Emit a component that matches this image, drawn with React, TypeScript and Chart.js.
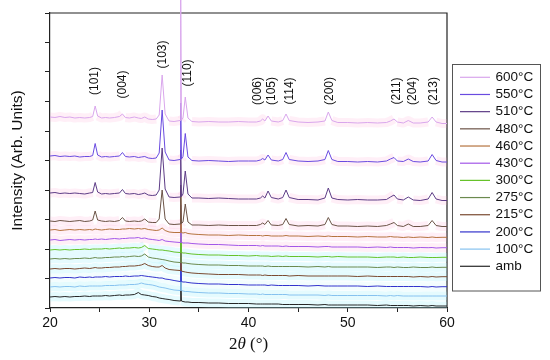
import React, { useEffect, useRef } from 'react';
import { Chart, registerables } from 'chart.js';

Chart.register(...registerables);

const twoTheta = [20, 20.5, 21, 21.5, 22, 22.5, 23, 23.5, 24, 24.3,
  24.55, 24.8, 25.2, 25.6, 26, 26.5, 27.0, 27.3, 27.6, 28,
  28.5, 28.9, 29.2, 29.55, 29.9, 30.3, 30.7, 31.0, 31.3, 31.6,
  32, 32.5, 33.1, 33.17, 33.24, 33.4, 33.63, 33.9, 34.3, 35,
  36, 37, 38, 39, 40, 40.8, 41.2, 41.43, 41.65, 41.97,
  42.3, 43, 43.45, 43.78, 44.1, 45, 46, 47, 47.7, 48.04,
  48.4, 49, 50, 51, 52, 53, 53.9, 54.3, 54.66, 55.0,
  55.6, 56.1, 56.6, 57.3, 58.1, 58.5, 58.9, 59.5, 60];

const s600 = [191, 190.5, 191.5, 190.5, 191, 190, 190.5, 190, 190.5, 191.5,
  202, 192, 190, 190.5, 190, 190.5, 191.5, 194, 190.5, 190,
  191, 190, 189.5, 191, 189, 188.5, 189, 193, 233, 194,
  187, 186.5, 187.5, 315, 188, 190, 211, 190, 186.5, 186,
  186.5, 186, 186, 186.5, 186, 186, 187, 189, 187, 192,
  187, 186, 187.5, 194, 187.5, 186, 185.5, 186, 187, 196,
  187.5, 185.5, 185.5, 185, 185.5, 185, 185.5, 187, 189, 186,
  185, 187.5, 185, 185, 186, 191, 186, 184.5, 184.5];

const s550 = [152, 152.5, 151.5, 152, 151.5, 152, 151, 151.5, 151.5, 152.5,
  164.5, 153, 151, 151.5, 151, 151.5, 152, 155.5, 151.5, 151,
  151.5, 150.5, 151, 151.5, 150, 149.5, 150, 155, 198, 156,
  148, 147.5, 148.5, 205, 149, 151.5, 174.5, 151, 147.5, 147,
  147.5, 147, 146.5, 147, 147, 147, 148, 149.5, 148, 153,
  148, 147, 148.5, 155.5, 148.5, 147, 146.5, 147, 148.5, 157.5,
  148.5, 146.5, 146.5, 146, 146.5, 146, 147, 149, 150.5, 147,
  146.5, 149, 146.5, 146, 147, 153.5, 147.5, 146, 146];

const s510 = [115, 115.5, 114.5, 115, 114.5, 115, 114.5, 114, 115, 115.5,
  125.5, 116, 114, 114.5, 114, 114.5, 115, 118.5, 114.5, 114,
  114.5, 113.5, 114, 115, 113, 112.5, 113, 118, 160, 119,
  111, 110.5, 111, 158, 111.5, 114, 137, 114, 110, 110,
  109.5, 110, 109.5, 109, 109, 109, 110, 112, 110, 117,
  110.5, 109, 110.5, 118, 110.5, 108.5, 108.5, 108, 110, 120,
  110, 108.5, 108, 108.5, 108, 108, 108.5, 111, 113, 109,
  108, 111, 108, 107.5, 109, 115.5, 109, 107.5, 107.5];

const s480 = [87, 86.5, 87.5, 87, 86.5, 87, 87.5, 86.5, 87, 88,
  97, 88, 87, 86.5, 87, 86.5, 87.5, 90.5, 87, 86.5,
  87, 86.5, 87, 89, 86, 85.5, 85.5, 89, 118, 89,
  84, 83.5, 84, 123, 84.5, 86, 104, 86, 83, 83,
  82.5, 83, 82.5, 82.5, 82.5, 82.5, 83.5, 85, 83.5, 87.5,
  83, 82.5, 83.5, 89.5, 83.5, 82, 82.5, 82, 83.5, 90.5,
  83.5, 82, 82, 81.5, 82, 81.5, 82.5, 84, 85.5, 82.5,
  81.5, 84, 81.5, 81.5, 82.5, 87.5, 82.5, 81.5, 81.5];

const s460 = [78, 78.5, 77.5, 78, 78.5, 78, 78.5, 78, 78.5, 78,
  79, 78.5, 78, 78.5, 79, 78.5, 78.5, 79, 79, 79.5,
  79, 79.5, 79, 79.5, 78.5, 78, 77.5, 78, 80, 77.5,
  76, 75.5, 75.5, 113, 75.5, 75, 75.5, 74.5, 74, 73.5,
  73, 73, 72.5, 73, 72.5, 72.5, 72.5, 72, 72.5, 72.5,
  72, 72, 72, 72.5, 72, 72, 71.5, 72, 71.5, 72,
  71.5, 71.5, 71.5, 71, 71.5, 71, 71, 71.5, 71, 71,
  70.5, 71, 70.5, 71, 70.5, 71, 70.5, 70.7, 70.7];

const s430 = [68, 68.5, 67.5, 68, 68.5, 68, 68.5, 68, 68.5, 68.5,
  69, 68.5, 69, 68.5, 69, 69.5, 69, 69.5, 69.5, 70,
  70, 70.5, 69.5, 70, 69, 68.5, 68, 67.5, 68.5, 67,
  66.5, 66, 65.5, 103, 65.5, 65, 65, 65, 64.5, 64,
  63.5, 63.5, 63, 62.5, 62.5, 62.5, 62, 62.5, 62, 62,
  62, 62, 61.5, 62, 61.5, 61.5, 61.5, 61, 61.5, 61.5,
  61, 61, 61, 61, 60.5, 61, 60.5, 61, 60.5, 60.5,
  60.5, 60.5, 60, 60.5, 60.3, 60.5, 60, 60.3, 60.3];

const s300 = [58, 58.5, 58, 58.5, 58, 58.5, 58.5, 59, 58.5, 59,
  59, 59, 59, 59.5, 59, 59.5, 60, 59.5, 60, 60,
  60.5, 60, 60.5, 62.5, 59.5, 59, 58.5, 58, 58, 57.5,
  57, 56, 55.5, 93, 55.5, 55, 55, 54.5, 54, 53.5,
  53, 53, 52.5, 52.5, 52, 52.5, 52, 52, 52, 52,
  51.5, 52, 51.5, 52, 51.5, 51.5, 51.5, 51, 51.5, 51.5,
  51, 51.5, 51, 51, 51, 50.5, 51, 51, 51, 50.5,
  51, 50.5, 50.5, 51, 50.5, 50.5, 50.5, 50.7, 50.7];

const s275 = [49, 49.5, 49, 49.5, 49, 49.5, 49.5, 50, 49.5, 50,
  50.5, 50, 50, 50.5, 50.5, 51, 51, 51.5, 51, 51.5,
  52, 51.5, 52, 54, 51, 50, 49.5, 49, 48.5, 48,
  47, 46, 45.5, 83, 45.5, 45, 45, 44.5, 44, 43.5,
  43, 43, 42.5, 42.5, 42, 42, 42, 42, 41.5, 42,
  41.5, 41.5, 41.5, 41.5, 41.5, 41.5, 41, 41.5, 41, 41.5,
  41, 41, 41, 41, 41, 40.5, 41, 41, 40.5, 41,
  40.5, 40.5, 41, 40.5, 40.5, 41, 40.5, 40.7, 40.7];

const s215 = [39, 39.5, 39, 39.5, 39.5, 39, 39.5, 40, 39.5, 40,
  40.5, 40, 40, 40.5, 40.5, 41, 41, 41.5, 41.5, 42,
  42, 42.5, 43, 44.5, 42.5, 41.5, 41, 41, 42.5, 40,
  38.5, 38, 37.5, 73, 37, 36.5, 36, 35.5, 35, 34.5,
  34, 33.5, 33.5, 33.5, 33, 33, 33, 32.5, 33, 32.5,
  32.5, 32.5, 32.5, 32.5, 32, 32.5, 32, 32, 32, 32,
  32, 32, 32, 31.5, 32, 31.5, 31.5, 31.5, 31.5, 31.5,
  31.5, 31.5, 31, 31.5, 31, 31.5, 31, 31.3, 31.3];

const s200 = [30, 30.5, 30, 30.5, 30.5, 30, 31, 30.5, 31, 30.5,
  31, 31, 31, 31.5, 31, 31.5, 31.5, 31.5, 32, 31.5,
  32, 32, 32.5, 32, 31.5, 31, 30.5, 30, 30, 29,
  28.5, 27.5, 26.5, 63, 26.5, 26, 26, 25.5, 25, 24.5,
  24, 24, 23.5, 23.5, 23, 23, 23, 23, 23, 22.5,
  23, 22.5, 22.5, 22.5, 22.5, 22.5, 22, 22.5, 22, 22,
  22, 22, 22, 22, 21.5, 22, 21.5, 21.5, 21.5, 21.5,
  21.5, 21.5, 21.5, 21.5, 21, 21.5, 21, 21.3, 21.3];

const s100 = [21, 21.5, 21, 21.5, 21.5, 21, 22, 21.5, 22, 22,
  22, 22, 22, 22.5, 22.5, 22.5, 23, 23, 23, 23.5,
  23.5, 24, 25, 24, 23.5, 23, 22, 21, 20.5, 20,
  19, 18, 17.5, 53, 17.5, 17, 16.5, 16.5, 16, 15.5,
  15, 15, 14.5, 14.5, 14, 14, 13.5, 14, 13.5, 13.5,
  13.5, 13.5, 13.5, 13.5, 13, 13, 13, 13, 12.5, 13,
  12.5, 12.5, 12.5, 12.5, 12.5, 12.5, 12, 12.5, 12, 12.5,
  12, 12, 12, 12, 12, 12, 12, 12, 12];

const sAmb = [11, 11.5, 11, 11.5, 11, 11.5, 11.5, 12, 11.5, 12,
  12, 12, 12, 12.5, 12, 12.5, 13, 12.5, 13, 13,
  13.5, 15.5, 13.5, 13, 12.5, 11.5, 11, 10, 9.5, 9,
  8.5, 7.5, 7, 40, 7, 6.5, 6, 6, 5.5, 5.5,
  5, 5, 4.5, 4.5, 4.5, 4, 4, 4, 4, 4,
  4, 4, 3.5, 3.5, 3.5, 3.5, 3.5, 3, 3.5, 3,
  3, 3, 3, 3, 3, 2.5, 3, 2.5, 2.5, 2.5,
  2.5, 2.5, 2, 2.5, 2, 2.5, 2, 2, 2];

const seriesLabels = ['600°C', '550°C', '510°C', '480°C', '460°C', '430°C', '300°C', '275°C', '215°C', '200°C', '100°C', 'amb'];
const seriesValues = [s600, s550, s510, s480, s460, s430, s300, s275, s215, s200, s100, sAmb];
const seriesColors = ['#d9a6ec', '#6a4be0', '#5d3c86', '#6b5346', '#b5733f', '#a357e8', '#66c22a', '#6b8a4e', '#7a4a30', '#3333cc', '#86c2ef', '#262626'];
const PINK = 'rgba(255,150,200,0.15)';
const CYAN = 'rgba(160,240,250,0.28)';
const haloColors = [PINK, PINK, PINK, PINK, PINK, PINK, CYAN, CYAN, CYAN, 'rgba(160,240,250,0.12)', CYAN, CYAN];

const peakLabels = ['(101)', '(004)', '(103)', '(110)', '(006)', '(105)', '(114)', '(200)', '(211)', '(204)', '(213)'];
const peakLabelX = [24.53, 27.32, 31.36, 33.88, 40.89, 42.34, 44.11, 48.14, 54.9, 56.5, 58.7];
const peakLabelY = [227, 223.5, 253.5, 235, 217, 217, 217, 217, 217, 217, 217];

const xMin = 20;
const xMax = 60;
const xStep = 5;
const yMin = 0;
const yMax = 295;
const yStep = 29.5;

const SANS = '"Liberation Sans", Arial, sans-serif';
const SERIF = '"Liberation Serif", "Times New Roman", serif';

const framePlugin = {
  id: 'frame',
  beforeDatasetsDraw(chart: any) {
    const { ctx, chartArea } = chart;
    ctx.save();
    ctx.strokeStyle = '#222';
    ctx.lineWidth = 1.2;
    ctx.beginPath();
    ctx.moveTo(chartArea.left, chartArea.top);
    ctx.lineTo(chartArea.right, chartArea.top);
    ctx.lineTo(chartArea.right, chartArea.bottom);
    ctx.stroke();
    ctx.restore();
  },
};

const peakLabelPlugin = {
  id: 'peakLabels',
  afterDatasetsDraw(chart: any) {
    const { ctx } = chart;
    const xs = chart.scales.x;
    const ys = chart.scales.y;
    ctx.save();
    ctx.fillStyle = '#111';
    ctx.font = `12px ${SANS}`;
    ctx.textAlign = 'center';
    ctx.textBaseline = 'middle';
    peakLabels.forEach((t, i) => {
      const px = xs.getPixelForValue(peakLabelX[i]);
      const py = ys.getPixelForValue(peakLabelY[i]);
      ctx.save();
      ctx.translate(px, py);
      ctx.rotate(-Math.PI / 2);
      ctx.fillText(t, 0, 0);
      ctx.restore();
    });
    ctx.restore();
  },
};

const xTitlePlugin = {
  id: 'xTitle',
  afterDraw(chart: any) {
    const { ctx, chartArea } = chart;
    const cx = (chartArea.left + chartArea.right) / 2;
    const cy = 345;
    const parts = [
      { t: '2', f: `17px ${SERIF}` },
      { t: 'θ', f: `italic 17px ${SERIF}` },
      { t: ' (°)', f: `17px ${SERIF}` },
    ];
    ctx.save();
    ctx.fillStyle = '#111';
    ctx.textBaseline = 'middle';
    ctx.textAlign = 'left';
    let total = 0;
    parts.forEach((p) => { ctx.font = p.f; total += ctx.measureText(p.t).width; });
    let x = cx - total / 2;
    parts.forEach((p) => { ctx.font = p.f; ctx.fillText(p.t, x, cy); x += ctx.measureText(p.t).width; });
    ctx.restore();
  },
};

const legendPlugin = {
  id: 'boxLegend',
  afterDraw(chart: any) {
    const { ctx } = chart;
    const left = 452;
    const top = 64.5;
    const w = 88;
    const h = 226.5;
    const row0 = 77.3;
    const step = 17.18;
    ctx.save();
    ctx.strokeStyle = '#555';
    ctx.lineWidth = 1;
    ctx.strokeRect(left + 0.5, top, w, h);
    ctx.font = `13.5px ${SANS}`;
    ctx.textBaseline = 'middle';
    ctx.textAlign = 'left';
    seriesLabels.forEach((lab, i) => {
      const y = row0 + i * step;
      ctx.strokeStyle = seriesColors[i];
      ctx.lineWidth = 1.2;
      ctx.beginPath();
      ctx.moveTo(460, y);
      ctx.lineTo(490, y);
      ctx.stroke();
      ctx.fillStyle = '#111';
      ctx.fillText(lab, 495.5, y);
    });
    ctx.restore();
  },
};

export default function App() {
  const ref = useRef<HTMLCanvasElement | null>(null);

  useEffect(() => {
    if (!ref.current) return;
    const mainSets = seriesValues.map((vals, i) => ({
      label: seriesLabels[i],
      data: twoTheta.map((x, k) => ({ x, y: vals[k] })),
      borderColor: seriesColors[i],
      backgroundColor: seriesColors[i],
      borderWidth: 1,
      pointRadius: 0,
      tension: 0,
      clip: false as any,
      order: 0,
    }));
    const haloSets = seriesValues.map((vals, i) => ({
      label: '_halo' + i,
      data: twoTheta.map((x, k) => ({ x, y: vals[k] })),
      borderColor: haloColors[i],
      borderWidth: 9,
      borderJoinStyle: 'round' as any,
      pointRadius: 0,
      tension: 0,
      order: 1,
      segment: {
        borderColor: (c: any) => (Math.abs(c.p1.parsed.y - c.p0.parsed.y) > 2.5 ? 'rgba(0,0,0,0)' : haloColors[i]),
      },
    }));

    const chart = new Chart(ref.current, {
      type: 'line',
      data: { datasets: [...mainSets, ...haloSets] as any },
      options: {
        animation: false,
        responsive: false,
        devicePixelRatio: 1,
        layout: { padding: { left: 0, right: 103, top: 13, bottom: 0 } },
        plugins: { legend: { display: false }, tooltip: { enabled: false } },
        scales: {
          x: {
            type: 'linear',
            min: xMin,
            max: xMax,
            afterFit: (s: any) => { s.height = 52; },
            ticks: {
              stepSize: xStep,
              autoSkip: false,
              maxRotation: 0,
              padding: 3,
              color: '#111',
              font: { family: SANS, size: 14 },
              callback: (v: any) => (Number(v) % 10 === 0 ? String(v) : ''),
            },
            grid: { drawOnChartArea: false, drawTicks: true, tickLength: 4, color: '#222', lineWidth: 1 },
            border: { display: true, color: '#222', width: 1.2 },
          },
          y: {
            type: 'linear',
            min: yMin,
            max: yMax,
            afterFit: (s: any) => { s.width = 50; },
            ticks: { stepSize: yStep, display: false },
            grid: { drawOnChartArea: false, drawTicks: true, tickLength: 5, color: '#222', lineWidth: 1 },
            border: { display: true, color: '#222', width: 1.2 },
            title: {
              display: true,
              text: 'Intensity (Arb. Units)',
              color: '#111',
              font: { family: SANS, size: 15.5 },
              padding: { top: 8, bottom: 0 },
            },
          },
        },
      },
      plugins: [framePlugin, peakLabelPlugin, xTitlePlugin, legendPlugin],
    });
    return () => chart.destroy();
  }, []);

  return (
    <div style={{ position: 'absolute', left: 0, top: 0, width: 550, height: 360, background: '#fff' }}>
      <canvas ref={ref} width={550} height={360} />
    </div>
  );
}
